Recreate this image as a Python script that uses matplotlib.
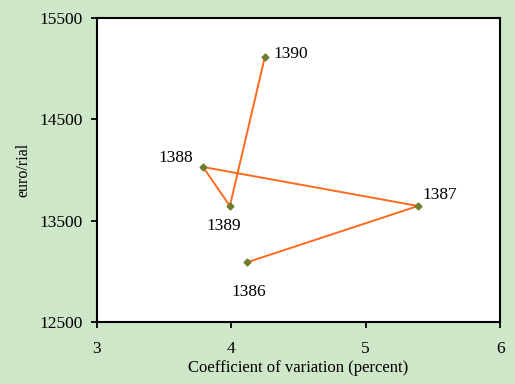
import matplotlib.pyplot as plt

plt.rcParams['font.family'] = ['Liberation Serif', 'DejaVu Serif']

years = ['1386', '1387', '1388', '1389', '1390']
cv = [4.12, 5.39, 3.79, 3.99, 4.25]  # coefficient of variation (percent)
rate = [13090, 13645, 14030, 13645, 15115]  # euro/rial
# label offsets in points (x, y) and alignment
offsets = [(-11.5, -21.5), (3.5, 8), (-7, 6.5), (-17, -14.5), (6.5, 2)]
aligns = ['left', 'left', 'right', 'left', 'left']

fig = plt.figure(figsize=(5.15, 3.84), dpi=100, facecolor='#cfe7c9')
ax = fig.add_axes([0.188, 0.1615, 0.783, 0.7915])
ax.set_facecolor('white')

ax.plot(cv, rate, color='#ff6a1f', lw=1.4, marker='D', ms=3.5,
        mfc='#6f7d2c', mec='#6f7d2c', zorder=3)
for yr, x, y, off, ha in zip(years, cv, rate, offsets, aligns):
    ax.annotate(yr, (x, y), xytext=off, textcoords='offset points',
                fontsize=12.5, va='center', ha=ha)

ax.set_xlim(3, 6)
ax.set_ylim(12500, 15500)
ax.set_xticks([3, 4, 5, 6])
ax.set_yticks([12500, 13500, 14500, 15500])
ax.tick_params(labelsize=12.5, direction='out', length=4, width=1.3)
ax.tick_params(axis='x', pad=10)
ax.tick_params(axis='y', pad=6)
for s in ax.spines.values():
    s.set_linewidth(1.5)
ax.set_xlabel('Coefficient of variation (percent)', fontsize=12, labelpad=2)
ax.set_ylabel('euro/rial', fontsize=11.5, labelpad=6)

fig.savefig('out.png', dpi=100, facecolor=fig.get_facecolor())
